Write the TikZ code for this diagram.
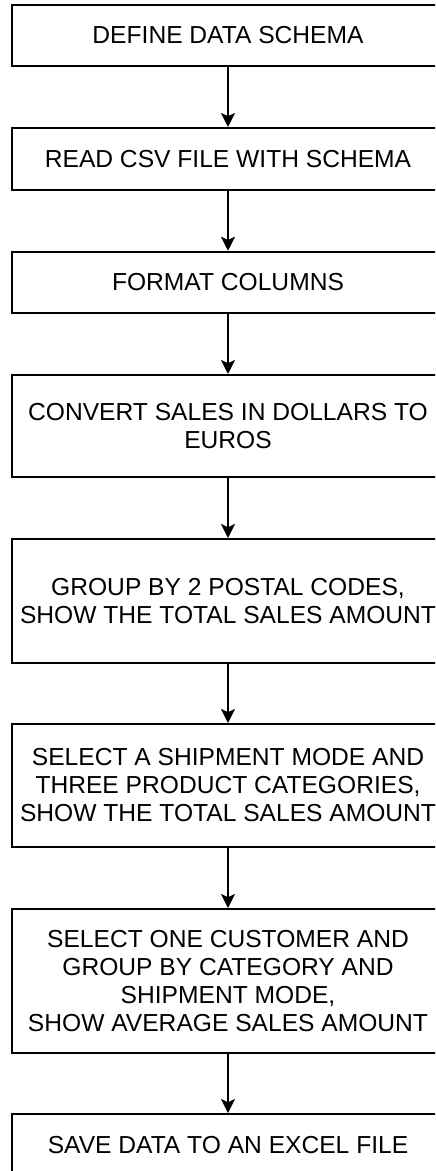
\documentclass[tikz,border=0pt]{standalone}
\usepackage{fontspec}
\setmainfont{Liberation Sans}
\usetikzlibrary{arrows.meta}

\begin{document}
\begin{tikzpicture}[x=0.5pt, y=-0.5pt,
    box/.style={draw, line width=1pt, minimum width=216pt, inner sep=0pt,
      align=center, font=\fontsize{12.3}{14}\selectfont},
    flow/.style={line width=1pt, -{Stealth[length=7pt, width=7pt, inset=1.6pt]}}]
    \useasboundingbox (0,0) rectangle (435,1171);
    \clip (0,0) rectangle (435,1171);

    % Define nodes
    \node[box, minimum height=30.5pt] (A) at (228,35.5) {DEFINE DATA SCHEMA};
    \node[box, minimum height=31pt] (B) at (228,159) {READ CSV FILE WITH SCHEMA};
    \node[box, minimum height=30.75pt] (C) at (228,282.5) {FORMAT COLUMNS};
    \node[box, minimum height=51pt] (D) at (228,426) {CONVERT SALES IN DOLLARS TO\\EUROS};
    \node[box, minimum height=62pt] (E) at (228,601) {GROUP BY 2 POSTAL CODES,\\SHOW THE TOTAL SALES AMOUNT};
    \node[box, minimum height=61.5pt] (F) at (228,785.5) {SELECT A SHIPMENT MODE AND\\THREE PRODUCT CATEGORIES,\\SHOW THE TOTAL SALES AMOUNT};
    \node[box, minimum height=72pt] (G) at (228,981) {SELECT ONE CUSTOMER AND\\GROUP BY CATEGORY AND\\SHIPMENT MODE,\\SHOW AVERAGE SALES AMOUNT};
    \node[box, minimum height=31pt] (H) at (228,1145) {SAVE DATA TO AN EXCEL FILE};

    % Draw arrows between steps
    \draw[flow] (A) -- (B);
    \draw[flow] (B) -- (C);
    \draw[flow] (C) -- (D);
    \draw[flow] (D) -- (E);
    \draw[flow] (E) -- (F);
    \draw[flow] (F) -- (G);
    \draw[flow] (G) -- (H);

\end{tikzpicture}
\end{document}
